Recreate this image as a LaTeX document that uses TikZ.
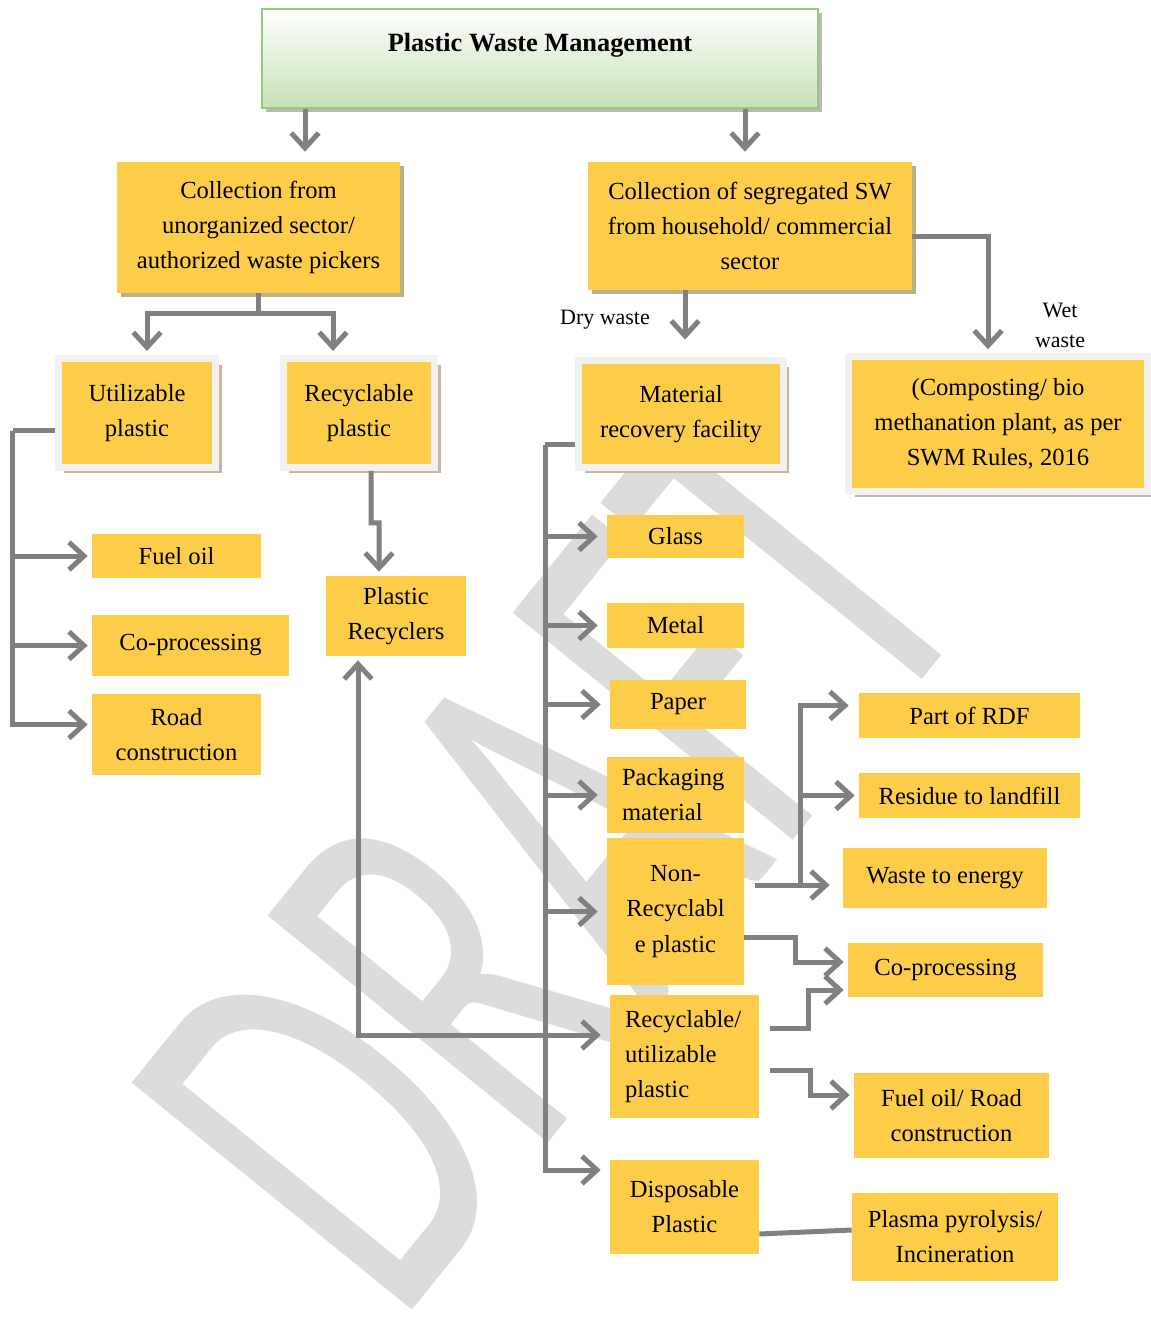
\documentclass[tikz,border=0pt]{standalone}
\usepackage{fontspec}
\setmainfont{Liberation Serif}
\newfontfamily\wmFont{Carlito}
\usetikzlibrary{arrows.meta,calc,shadows}

\definecolor{boxGelb}{RGB}{253,204,72}
\definecolor{linienGrau}{RGB}{128,128,128}
\definecolor{rahmenGrau}{RGB}{241,241,241}
\definecolor{schattenBraun}{RGB}{205,180,160}
\definecolor{schattenKhaki}{RGB}{190,176,135}
\definecolor{titelGruen}{RGB}{198,225,180}
\definecolor{titelRand}{RGB}{150,200,125}
\definecolor{wmGrau}{RGB}{220,220,220}

\tikzset{
  line/.style={draw=linienGrau,line width=0.1cm},
  arr/.style={line,->,shorten >=0.08cm},
  box/.style={fill=boxGelb,inner sep=0.1cm,align=center,font=\fontsize{14}{20}\selectfont},
  boxSize/.style 2 args={minimum width=#1,minimum height=#2},
  shadowBox/.style={box,drop shadow={shadow xshift=0.08cm,shadow yshift=-0.08cm,fill=schattenKhaki,opacity=1}},
  frameBox/.style={box,draw=rahmenGrau,line width=0.14cm,drop shadow={shadow xshift=0.12cm,shadow yshift=-0.12cm,fill=schattenBraun,opacity=1}},
  leftBox/.style={box,align=left,inner xsep=0.3cm},
  titleBox/.style={top color=white,bottom color=titelGruen,draw=titelRand,line width=0.04cm,
    drop shadow={shadow xshift=0.08cm,shadow yshift=-0.08cm,fill=gray!55,opacity=1},
    font=\fontsize{15}{18}\selectfont\bfseries,minimum width=11.12cm,text height=0.66cm,text depth=0.92cm,inner ysep=0.2cm},
  lbl/.style={inner sep=0,align=center,font=\fontsize{12.5}{17}\selectfont}
}

\begin{document}
\begin{tikzpicture}[x=0.02cm,y=-0.02cm,>={Straight Barb[length=0.3cm,width=0.55cm]}]
  \useasboundingbox (0,0) rectangle (1151,1317);
  % Wasserzeichen
  \node[rotate=51,xscale=0.62,anchor=base west,inner sep=0,text=wmGrau,font=\wmFont\fontsize{320}{320}\selectfont] (wz) at (397,1329) {DRAFT};
  % Kopf
  \node[titleBox,anchor=north] (titel) at (540,8) {Plastic Waste Management};
  % Sammlung
  \node[shadowBox,boxSize={5.66cm}{2.62cm}] (sammelU) at (258.5,227.5) {Collection from\\unorganized sector/\\authorized waste pickers};
  \node[shadowBox,boxSize={6.48cm}{2.56cm}] (sammelH) at (750,226) {Collection of segregated SW\\from household/ commercial\\sector};
  \node[frameBox,boxSize={3.15cm}{2.18cm}] (utilP) at (137,413) {Utilizable\\plastic};
  \node[frameBox,boxSize={3.03cm}{2.18cm}] (recyP) at (359,413) {Recyclable\\plastic};
  \node[frameBox,boxSize={4.09cm}{2.14cm}] (mrf) at (681,414) {Material\\recovery facility};
  \node[frameBox,boxSize={5.98cm}{2.69cm}] (nass) at (998,424) {(Composting/ bio\\methanation plant, as per\\SWM Rules, 2016};
  \node[lbl] (trocken) at (605,320) {Dry waste};
  \node[lbl] (nassL) at (1060,325) {Wet\\waste};
  % links
  \node[box,boxSize={3.38cm}{0.88cm}] (fuelL) at (176.5,556) {Fuel oil};
  \node[box,boxSize={3.94cm}{1.22cm}] (coprL) at (190.5,645.5) {Co-processing};
  \node[box,boxSize={3.38cm}{1.62cm}] (roadL) at (176.5,734.5) {Road\\construction};
  \node[box,boxSize={2.8cm}{1.6cm}] (recycler) at (396,616) {Plastic\\Recyclers};
  % MRF
  \node[box,boxSize={2.74cm}{0.86cm}] (glas) at (675.5,536.5) {Glass};
  \node[box,boxSize={2.74cm}{0.9cm}] (metall) at (675.5,625.5) {Metal};
  \node[box,boxSize={2.72cm}{0.98cm}] (papier) at (678,704.5) {Paper};
  \node[leftBox,text width=2.14cm,minimum height=1.52cm] (verpack) at (675.5,795) {Packaging\\material};
  \node[box,boxSize={2.74cm}{2.94cm}] (nonRec) at (675.5,911.5) {Non-\\Recyclabl\\e plastic};
  \node[leftBox,text width=2.38cm,minimum height=2.46cm] (recUtil) at (684.5,1056.5) {Recyclable/\\utilizable\\plastic};
  \node[box,boxSize={2.98cm}{1.88cm}] (dispo) at (684.5,1207) {Disposable\\Plastic};
  % rechts
  \node[box,boxSize={4.42cm}{0.9cm}] (rdf) at (969.5,715.5) {Part of RDF};
  \node[box,boxSize={4.42cm}{0.9cm}] (deponie) at (969.5,795.5) {Residue to landfill};
  \node[box,boxSize={4.08cm}{1.2cm}] (wte) at (945,878) {Waste to energy};
  \node[box,boxSize={3.9cm}{1.08cm}] (coprR) at (945.5,970) {Co-processing};
  \node[box,boxSize={3.9cm}{1.7cm}] (fuelR) at (951.5,1115.5) {Fuel oil/ Road\\construction};
  \node[box,boxSize={4.12cm}{1.76cm}] (plasma) at (955,1237) {Plasma pyrolysis/\\Incineration};
  % Pfeile vom Kopf
  \draw[arr,shorten >=0.2cm] (305,0 |- titel.south) -- (305,0 |- sammelU.north);
  \draw[arr,shorten >=0.2cm] (745,0 |- titel.south) -- (745,0 |- sammelH.north);
  % linker Zweig
  \draw[line] (sammelU.south) -- ++(0,20) coordinate (gabelU);
  \draw[arr] (gabelU) -| ([xshift=0.2cm]utilP.north);
  \draw[arr] (gabelU) -| ([xshift=-0.52cm]recyP.north);
  \draw[line] ([yshift=-0.36cm]utilP.west) -- ++(-42,0) coordinate (stammL);
  \draw[arr] (stammL) |- ([yshift=0.2cm]roadL.west);
  \draw[arr] (stammL |- fuelL.west) -- (fuelL.west);
  \draw[arr] (stammL |- coprL.west) -- (coprL.west);
  \draw[arr] ([xshift=0.24cm]recyP.south) -- ++(0,52) -- ++(8,0) -- ([xshift=-0.34cm]recycler.north);
  % rechter Zweig
  \draw[arr,shorten >=0.35cm] (685,0 |- sammelH.south) -- (685,0 |- mrf.north);
  \draw[arr] ([yshift=-0.22cm]sammelH.east) -| ([xshift=-0.2cm]nass.north);
  % MRF-Stamm
  \draw[line] ([yshift=-0.62cm]mrf.west) -- ++(-30,0) coordinate (stammM);
  \coordinate (rueck) at ([yshift=0.43cm]recUtil.west);
  \draw[arr,shorten >=0.18cm] (stammM) |- ([yshift=0.74cm]dispo.west);
  \foreach \n in {glas,metall,papier,verpack,nonRec}
    \draw[arr,shorten >=0.18cm] (stammM |- \n.west) -- (\n.west);
  \draw[arr,shorten >=0.18cm] (stammM |- rueck) -- (rueck);
  \draw[arr] (stammM |- rueck) -| ([xshift=-0.76cm]recycler.south);
  % Verwertung
  \coordinate (nrA) at ([xshift=0.22cm,yshift=0.53cm]nonRec.east);
  \draw[arr,shorten >=0.26cm] (nrA) -- (nrA -| wte.west);
  \draw[arr,shorten >=0.2cm] (800,0 |- nrA) |- ([yshift=0.2cm]rdf.west);
  \draw[arr] (800,0 |- deponie.west) -- (deponie.west);
  \draw[arr] ([yshift=-0.51cm]nonRec.east) -- ++(51,0) |- ([yshift=0.16cm]coprR.west);
  \draw[arr] ([xshift=0.22cm,yshift=0.57cm]recUtil.east) -- ++(38,0) |- ([yshift=-0.4cm]coprR.west);
  \draw[arr] ([xshift=0.22cm,yshift=-0.27cm]recUtil.east) -- ++(40,0) |- ([yshift=0.41cm]fuelR.west);
  \draw[line] ([yshift=-0.54cm]dispo.east) -- ([yshift=0.14cm]plasma.west);
\end{tikzpicture}
\end{document}
